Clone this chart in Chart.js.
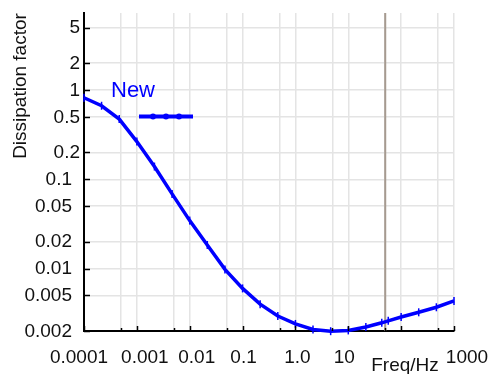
<!DOCTYPE html>
<html><head><meta charset="utf-8">
<script src="https://cdn.jsdelivr.net/npm/chart.js@4.4.0/dist/chart.umd.min.js"></script>
<style>html,body{margin:0;padding:0;background:#fff}#wrap{width:493px;height:374px;position:relative}</style>
</head><body><div id="wrap"><canvas id="c" width="493" height="374"></canvas></div>
<script>
// ---- data ----
const freqs = [0.0001, 0.000215, 0.000464, 0.001, 0.00215, 0.00464, 0.01, 0.0215, 0.0464, 0.1, 0.215, 0.464, 1, 2.15, 4.64, 10, 21.5, 43, 57, 100, 215, 464, 1000];
const dissipation = [0.82, 0.667, 0.473, 0.265, 0.139, 0.0687, 0.0345, 0.0184, 0.0098, 0.0060, 0.0040, 0.00294, 0.0024, 0.00208, 0.00199, 0.00203, 0.00222, 0.00247, 0.00260, 0.00287, 0.00324, 0.00369, 0.00434];
const seriesName = 'New';
const xGridValues = [1e-4, 5e-4, 1e-3, 5e-3, 0.01, 0.05, 0.1, 0.5, 1, 5, 10, 50, 100, 500, 1000];
const xMajorValues = [1e-4, 1e-3, 0.01, 0.1, 1, 10, 100, 1000];
const xTickValues = [1e-4, 1e-3, 0.01, 0.1, 1, 10, 1000];
const xTickLabels = ['0.0001', '0.001', '0.01', '0.1', '1.0', '10', '1000'];
const yTickValues = [0.002, 0.005, 0.01, 0.02, 0.05, 0.1, 0.2, 0.5, 1, 2, 5];
const yTickLabels = ['0.002', '0.005', '0.01', '0.02', '0.05', '0.1', '0.2', '0.5', '1', '2', '5'];
const markerFreq = 50;
const xTitle = 'Freq/Hz';
const yTitle = 'Dissipation factor';

// ---- styles ----
const FONT = "'Liberation Sans', Arial, sans-serif";
const BLUE = '#0000ff';
const xLabelShift = [-5, 8, 7, 1, 2, -4, 13];

const deco = {
  id: 'deco',
  beforeDatasetsDraw(chart) {
    const {ctx, chartArea: a, scales: {x}} = chart;
    const px = x.getPixelForValue(markerFreq);
    ctx.save();
    ctx.strokeStyle = '#a69a90';
    ctx.lineWidth = 2;
    ctx.beginPath(); ctx.moveTo(px, a.top); ctx.lineTo(px, a.bottom); ctx.stroke();
    ctx.restore();
  },
  afterDraw(chart) {
    const {ctx, chartArea: a, scales: {x, y}} = chart;
    ctx.save();
    // inside tick marks
    ctx.strokeStyle = '#000'; ctx.lineWidth = 1.5;
    xGridValues.forEach(v => {
      const px = Math.round(x.getPixelForValue(v)) + 0.5;
      const len = xMajorValues.includes(v) ? 5 : 3;
      ctx.beginPath(); ctx.moveTo(px, a.bottom); ctx.lineTo(px, a.bottom - len); ctx.stroke();
    });
    yTickValues.forEach(v => {
      const py = Math.round(y.getPixelForValue(v)) + 0.5;
      ctx.beginPath(); ctx.moveTo(a.left, py); ctx.lineTo(a.left + 6, py); ctx.stroke();
    });
    // tick labels
    ctx.fillStyle = '#111';
    ctx.font = '19px ' + FONT;
    ctx.textAlign = 'center'; ctx.textBaseline = 'alphabetic';
    xTickValues.forEach((v, i) => {
      ctx.fillText(xTickLabels[i], x.getPixelForValue(v) + xLabelShift[i], a.bottom + 32);
    });
    ctx.textAlign = 'right'; ctx.textBaseline = 'middle';
    yTickValues.forEach((v, i) => {
      const right = v >= 0.2 ? a.left - 4 : a.left - 12;
      ctx.fillText(yTickLabels[i], right, y.getPixelForValue(v) + 0.5);
    });
    // axis titles
    ctx.textAlign = 'center'; ctx.textBaseline = 'alphabetic';
    ctx.fillText(xTitle, 405, 371);
    ctx.save();
    ctx.translate(26, 86); ctx.rotate(-Math.PI / 2);
    ctx.font = '19px ' + FONT;
    ctx.fillText(yTitle, 0, 0);
    ctx.restore();
    // legend
    ctx.fillStyle = BLUE;
    ctx.font = '22px ' + FONT;
    ctx.textAlign = 'left';
    ctx.fillText(seriesName, 111, 97);
    ctx.strokeStyle = BLUE; ctx.lineWidth = 4;
    ctx.beginPath(); ctx.moveTo(139, 116.5); ctx.lineTo(193, 116.5); ctx.stroke();
    [153, 166, 179].forEach(cx => { ctx.beginPath(); ctx.arc(cx, 116.5, 3, 0, Math.PI * 2); ctx.fill(); });
    ctx.restore();
  }
};

new Chart(document.getElementById('c'), {
  type: 'line',
  data: {
    datasets: [{
      label: seriesName,
      data: freqs.map((f, i) => ({x: f, y: dissipation[i]})),
      borderColor: BLUE, backgroundColor: BLUE, borderWidth: 3.5,
      pointStyle: 'line', rotation: 90, pointRadius: 4, pointBorderWidth: 1.5, pointBorderColor: BLUE,
      tension: 0, clip: false
    }]
  },
  options: {
    responsive: false, animation: false, events: [],
    layout: {padding: {top: 13, right: 39, left: 0, bottom: 0}},
    plugins: {legend: {display: false}, tooltip: {enabled: false}},
    scales: {
      x: {
        type: 'logarithmic', min: 1e-4, max: 1000,
        afterBuildTicks: s => { s.ticks = xGridValues.map(v => ({value: v})); },
        afterFit: s => { s.height = 43; },
        ticks: {display: false},
        grid: {color: '#e4e4e4', lineWidth: 1.5, drawTicks: false},
        border: {display: true, color: '#000', width: 2}
      },
      y: {
        type: 'logarithmic', min: 0.002, max: 7.3,
        afterBuildTicks: s => { s.ticks = yTickValues.map(v => ({value: v})); },
        afterFit: s => { s.width = 84; },
        ticks: {display: false},
        grid: {color: '#e4e4e4', lineWidth: 1.5, drawTicks: false},
        border: {display: true, color: '#000', width: 2}
      }
    }
  },
  plugins: [deco]
});
</script></body></html>
